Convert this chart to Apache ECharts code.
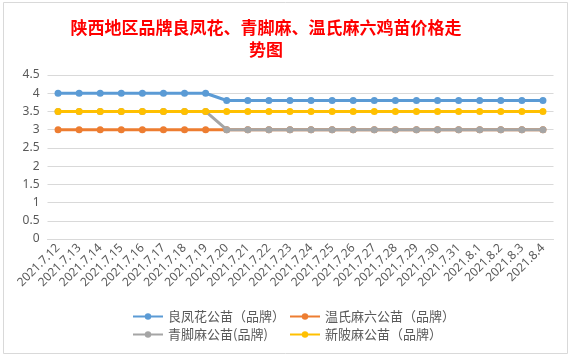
<!DOCTYPE html>
<html><head><meta charset="utf-8">
<script src="https://cdn.jsdelivr.net/npm/echarts@6/dist/echarts.min.js"></script>
<style>html,body{margin:0;padding:0;background:#fff}#c{width:573px;height:358px}</style>
</head><body><div id="c"></div>
<script>
var categories = ['2021.7.12','2021.7.13','2021.7.14','2021.7.15','2021.7.16','2021.7.17','2021.7.18','2021.7.19','2021.7.20','2021.7.21','2021.7.22','2021.7.23','2021.7.24','2021.7.25','2021.7.26','2021.7.27','2021.7.28','2021.7.29','2021.7.30','2021.7.31','2021.8.1','2021.8.2','2021.8.3','2021.8.4'];
var liangfenghua = [4,4,4,4,4,4,4,4,3.8,3.8,3.8,3.8,3.8,3.8,3.8,3.8,3.8,3.8,3.8,3.8,3.8,3.8,3.8,3.8];
var wenshimaliu = [3,3,3,3,3,3,3,3,3,3,3,3,3,3,3,3,3,3,3,3,3,3,3,3];
var qingjiaoma = [3.5,3.5,3.5,3.5,3.5,3.5,3.5,3.5,3,3,3,3,3,3,3,3,3,3,3,3,3,3,3,3];
var xinpima = [3.5,3.5,3.5,3.5,3.5,3.5,3.5,3.5,3.5,3.5,3.5,3.5,3.5,3.5,3.5,3.5,3.5,3.5,3.5,3.5,3.5,3.5,3.5,3.5];
var seriesNames = ['良凤花公苗（品牌）','温氏麻六公苗（品牌）','青脚麻公苗(品牌)','新陂麻公苗（品牌）'];
var colors = ['#5B9BD5','#ED7D31','#A5A5A5','#FFC000'];
var titleText = '陕西地区品牌良凤花、青脚麻、温氏麻六鸡苗价格走\n势图';

var chart = echarts.init(document.getElementById('c'), null, {renderer:'canvas'});
function mk(i, data){
  return {name: seriesNames[i], type:'line', data:data, symbol:'circle', symbolSize:7,
    itemStyle:{color:colors[i]}, lineStyle:{color:colors[i], width:3}, animation:false, z: 2+i};
}
var legendText = {color:'#595959', fontSize:13, fontFamily:'"Noto Sans CJK SC", sans-serif'};
chart.setOption({
  backgroundColor:'#fff',
  title:{text:titleText, left:261, top:12, textAlign:'center',
    textStyle:{color:'#FF0000', fontSize:17, fontWeight:'bold', lineHeight:22, fontFamily:'"Noto Sans CJK SC", sans-serif'}},
  graphic:[{type:'rect', shape:{x:3.5,y:2.5,width:564,height:351}, style:{fill:null, stroke:'#D9D9D9', lineWidth:1}, silent:true}],
  legend:[
    {data:[seriesNames[0], seriesNames[2]], orient:'vertical', left:127, top:305, itemWidth:30, itemHeight:8, itemGap:5, textStyle:legendText},
    {data:[seriesNames[1], seriesNames[3]], orient:'vertical', left:284, top:305, itemWidth:30, itemHeight:8, itemGap:5, textStyle:legendText}
  ],
  grid:{left:47.5, right:19.5, top:75, bottom:119, containLabel:false},
  xAxis:{type:'category', data:categories, boundaryGap:true,
    axisLine:{lineStyle:{color:'#D9D9D9'}}, axisTick:{show:false},
    axisLabel:{rotate:45, color:'#595959', fontSize:12, margin:7, interval:0, fontFamily:'"Noto Sans", sans-serif'}},
  yAxis:{type:'value', min:0, max:4.5, interval:0.5,
    axisLine:{show:false}, axisTick:{show:false},
    splitLine:{lineStyle:{color:'#D9D9D9'}},
    axisLabel:{color:'#595959', fontSize:12, margin:8, fontFamily:'"Noto Sans", sans-serif'}},
  series:[mk(0,liangfenghua), mk(1,wenshimaliu), mk(2,qingjiaoma), mk(3,xinpima)]
});
</script></body></html>
